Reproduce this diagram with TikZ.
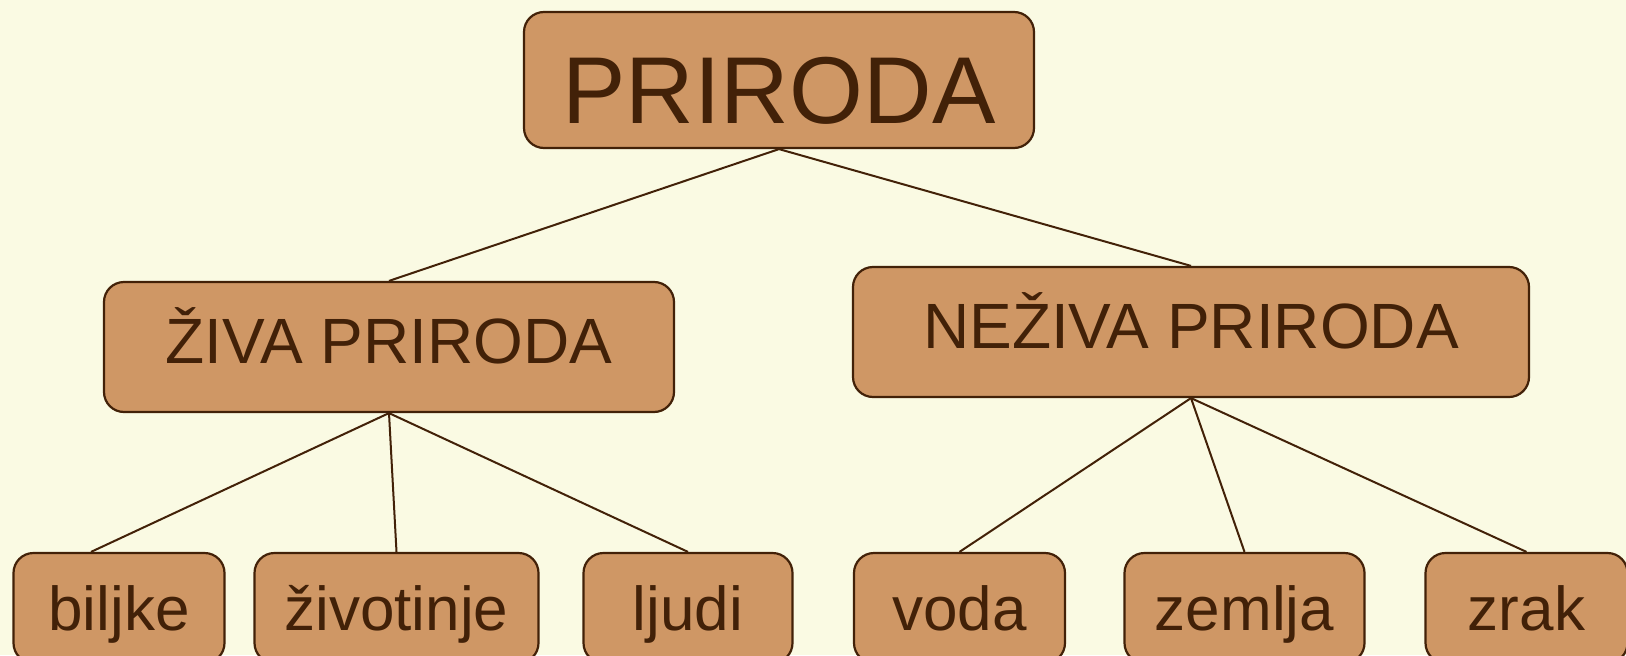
\documentclass[tikz,border=0pt]{standalone}
\usepackage{fontspec}
\setmainfont{Liberation Sans}
\usetikzlibrary{positioning}
\definecolor{bgyellow}{RGB}{250,250,227}
\definecolor{boxbrown}{RGB}{207,151,101}
\definecolor{inkbrown}{RGB}{66,33,8}
\tikzset{%
  link/.style = {draw=inkbrown,line width=1pt},
  b/.style = {rectangle,rounded corners=10pt,draw=inkbrown,line width=1.1pt,
        fill=boxbrown,text=inkbrown,inner ysep=0pt,text depth=0pt},
  lvlone/.style = {b,minimum width=255pt,minimum height=68pt,text height=44pt,
        font=\fontsize{47.5}{50}\selectfont},
  lvltwo/.style = {b,minimum height=65pt,text height=16pt,
        font=\fontsize{32}{34}\selectfont},
  lvlthree/.style = {b,minimum height=55pt,text height=22pt,
        font=\fontsize{31}{33}\selectfont}
}
\begin{document}
\begin{tikzpicture}
   \fill[bgyellow] (0,0) rectangle (813pt,327.5pt);
   \useasboundingbox (0,0) rectangle (813pt,327.5pt);

   \node[lvlone] (prir) at (389.5pt,287.5pt) {PRIRODA};
   \node[lvltwo,minimum width=285pt] (ziva) at (194.5pt,154pt) {ŽIVA PRIRODA};
   \node[lvltwo,minimum width=338pt] (neziva) at (595.5pt,161.5pt) {NEŽIVA PRIRODA};

   \node[lvlthree,minimum width=105.5pt] (biljke) at (59.5pt,23.5pt) {biljke};
   \node[lvlthree,minimum width=142pt] (zivotinje) [right=13.9pt of biljke] {životinje};
   \node[lvlthree,minimum width=104.5pt] (ljudi) [right=21.4pt of zivotinje] {ljudi};
   \node[lvlthree,minimum width=105.5pt] (voda) [right=29.65pt of ljudi] {voda};
   \node[lvlthree,minimum width=120pt] (zemlja) [right=28.65pt of voda] {zemlja};
   \node[lvlthree,minimum width=101pt] (zrak) [right=29.4pt of zemlja] {zrak};
   \coordinate (biljke-top) at ([xshift=-14pt]biljke.north);

   \draw[link] (prir.south) -- (ziva.north);
   \draw[link] (prir.south) -- (neziva.north);

   \draw[link] (ziva.south) -- (biljke-top);
   \draw[link] (ziva.south) -- (zivotinje.north);
   \draw[link] (ziva.south) -- (ljudi.north);

   \draw[link] (neziva.south) -- (voda.north);
   \draw[link] (neziva.south) -- (zemlja.north);
   \draw[link] (neziva.south) -- (zrak.north);
\end{tikzpicture}
\end{document}
